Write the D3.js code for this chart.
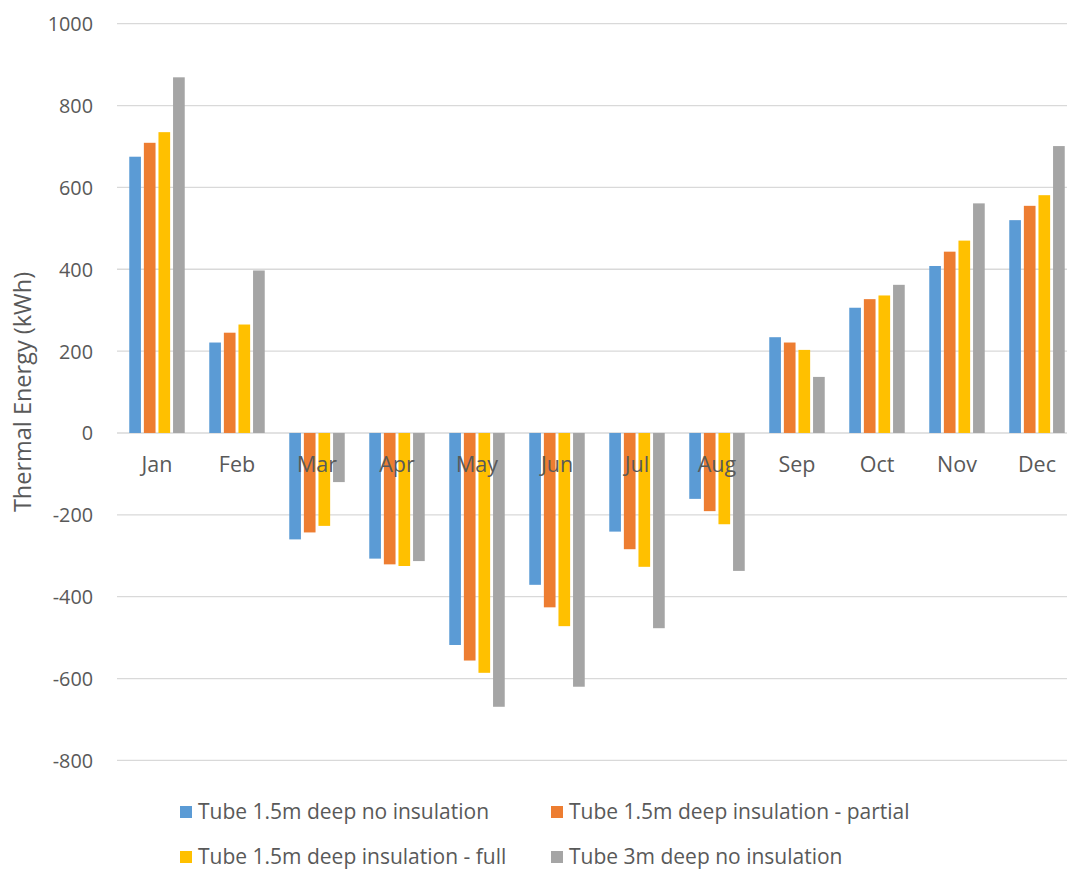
<!DOCTYPE html>
<html>
<head>
<meta charset="utf-8">
<script src="https://cdn.jsdelivr.net/npm/d3@7"></script>
<style>
  html, body { margin: 0; padding: 0; background: #fff; }
  svg { display: block; }
  text { font-family: "Open Sans", "Noto Sans", sans-serif; fill: #595959; }
</style>
</head>
<body>
<svg id="chart" width="1067" height="869"></svg>
<script>
const months = ["Jan","Feb","Mar","Apr","May","Jun","Jul","Aug","Sep","Oct","Nov","Dec"];
const seriesNames = [
  "Tube 1.5m deep no insulation",
  "Tube 1.5m deep insulation - partial",
  "Tube 1.5m deep insulation - full",
  "Tube 3m deep no insulation"
];
const noInsulation15 = [675, 221, -260, -307, -518, -371, -241, -161, 234, 306, 408, 520];
const partial15      = [709, 245, -243, -321, -556, -426, -284, -191, 221, 327, 443, 555];
const full15         = [735, 265, -227, -325, -586, -472, -327, -223, 203, 336, 470, 581];
const noInsulation3  = [869, 397, -120, -313, -669, -620, -477, -337, 137, 362, 561, 701];
const yTicks = [-800, -600, -400, -200, 0, 200, 400, 600, 800, 1000];
const colors = ["#5b9bd5", "#ed7d31", "#ffc000", "#a5a5a5"];
const seriesValues = [noInsulation15, partial15, full15, noInsulation3];

const FONT = "'Open Sans', 'Noto Sans', sans-serif";
const svg = d3.select("#chart");

const x0 = d3.scaleBand().domain(months).range([117, 1077]).padding(0);
const x1 = d3.scaleBand().domain(d3.range(4)).range([0, 58.4]).paddingInner(0.2).paddingOuter(0.1);
const y = d3.scaleLinear().domain([-800, 1000]).range([760.4, 23.7]);

// gridlines
svg.append("g").selectAll("line").data(yTicks).join("line")
  .attr("x1", 117).attr("x2", 1077)
  .attr("y1", d => y(d)).attr("y2", d => y(d))
  .attr("stroke", "#d9d9d9").attr("stroke-width", 1.3);

// y axis labels
const yAxis = d3.axisLeft(y).tickValues(yTicks).tickSize(0).tickPadding(0).tickFormat(d => String(d));
const yg = svg.append("g").attr("transform", "translate(93,0)").call(yAxis);
yg.select(".domain").remove();
yg.selectAll("text").attr("font-size", 19.8).attr("font-family", FONT).attr("fill", "#595959").attr("dy", "0.35em");

// bars
const groups = svg.append("g").selectAll("g").data(months).join("g")
  .attr("transform", d => `translate(${x0(d) + x0.bandwidth() / 2 - 29.2},0)`);
groups.selectAll("rect").data((m, i) => seriesValues.map((s, k) => ({k, v: s[i]}))).join("rect")
  .attr("x", d => x1(d.k))
  .attr("width", x1.bandwidth())
  .attr("y", d => y(Math.max(0, d.v)))
  .attr("height", d => Math.abs(y(d.v) - y(0)))
  .attr("fill", d => colors[d.k]);

// x axis labels
const xAxis = d3.axisBottom(x0).tickSize(0).tickPadding(0);
const xg = svg.append("g").attr("transform", `translate(0,${y(0) + 31})`).call(xAxis);
xg.select(".domain").remove();
xg.selectAll("text").attr("font-size", 21.5).attr("font-family", FONT).attr("fill", "#595959").attr("dy", "0.35em");

// axis title
svg.append("text")
  .attr("transform", "translate(23,392) rotate(-90)")
  .attr("text-anchor", "middle").attr("dy", "0.35em")
  .attr("font-size", 23.5)
  .text("Thermal Energy (kWh)");

// legend
const legendPos = [[180, 812], [551, 812], [180, 857], [551, 857]];
const lg = svg.append("g").selectAll("g").data(seriesNames).join("g")
  .attr("transform", (d, i) => `translate(${legendPos[i][0]},${legendPos[i][1]})`);
lg.append("rect").attr("x", 0).attr("y", -6).attr("width", 12).attr("height", 12).attr("fill", (d, i) => colors[i]);
lg.append("text").attr("x", 18).attr("dy", "0.35em").attr("font-size", 21).text(d => d);
</script>
</body>
</html>
